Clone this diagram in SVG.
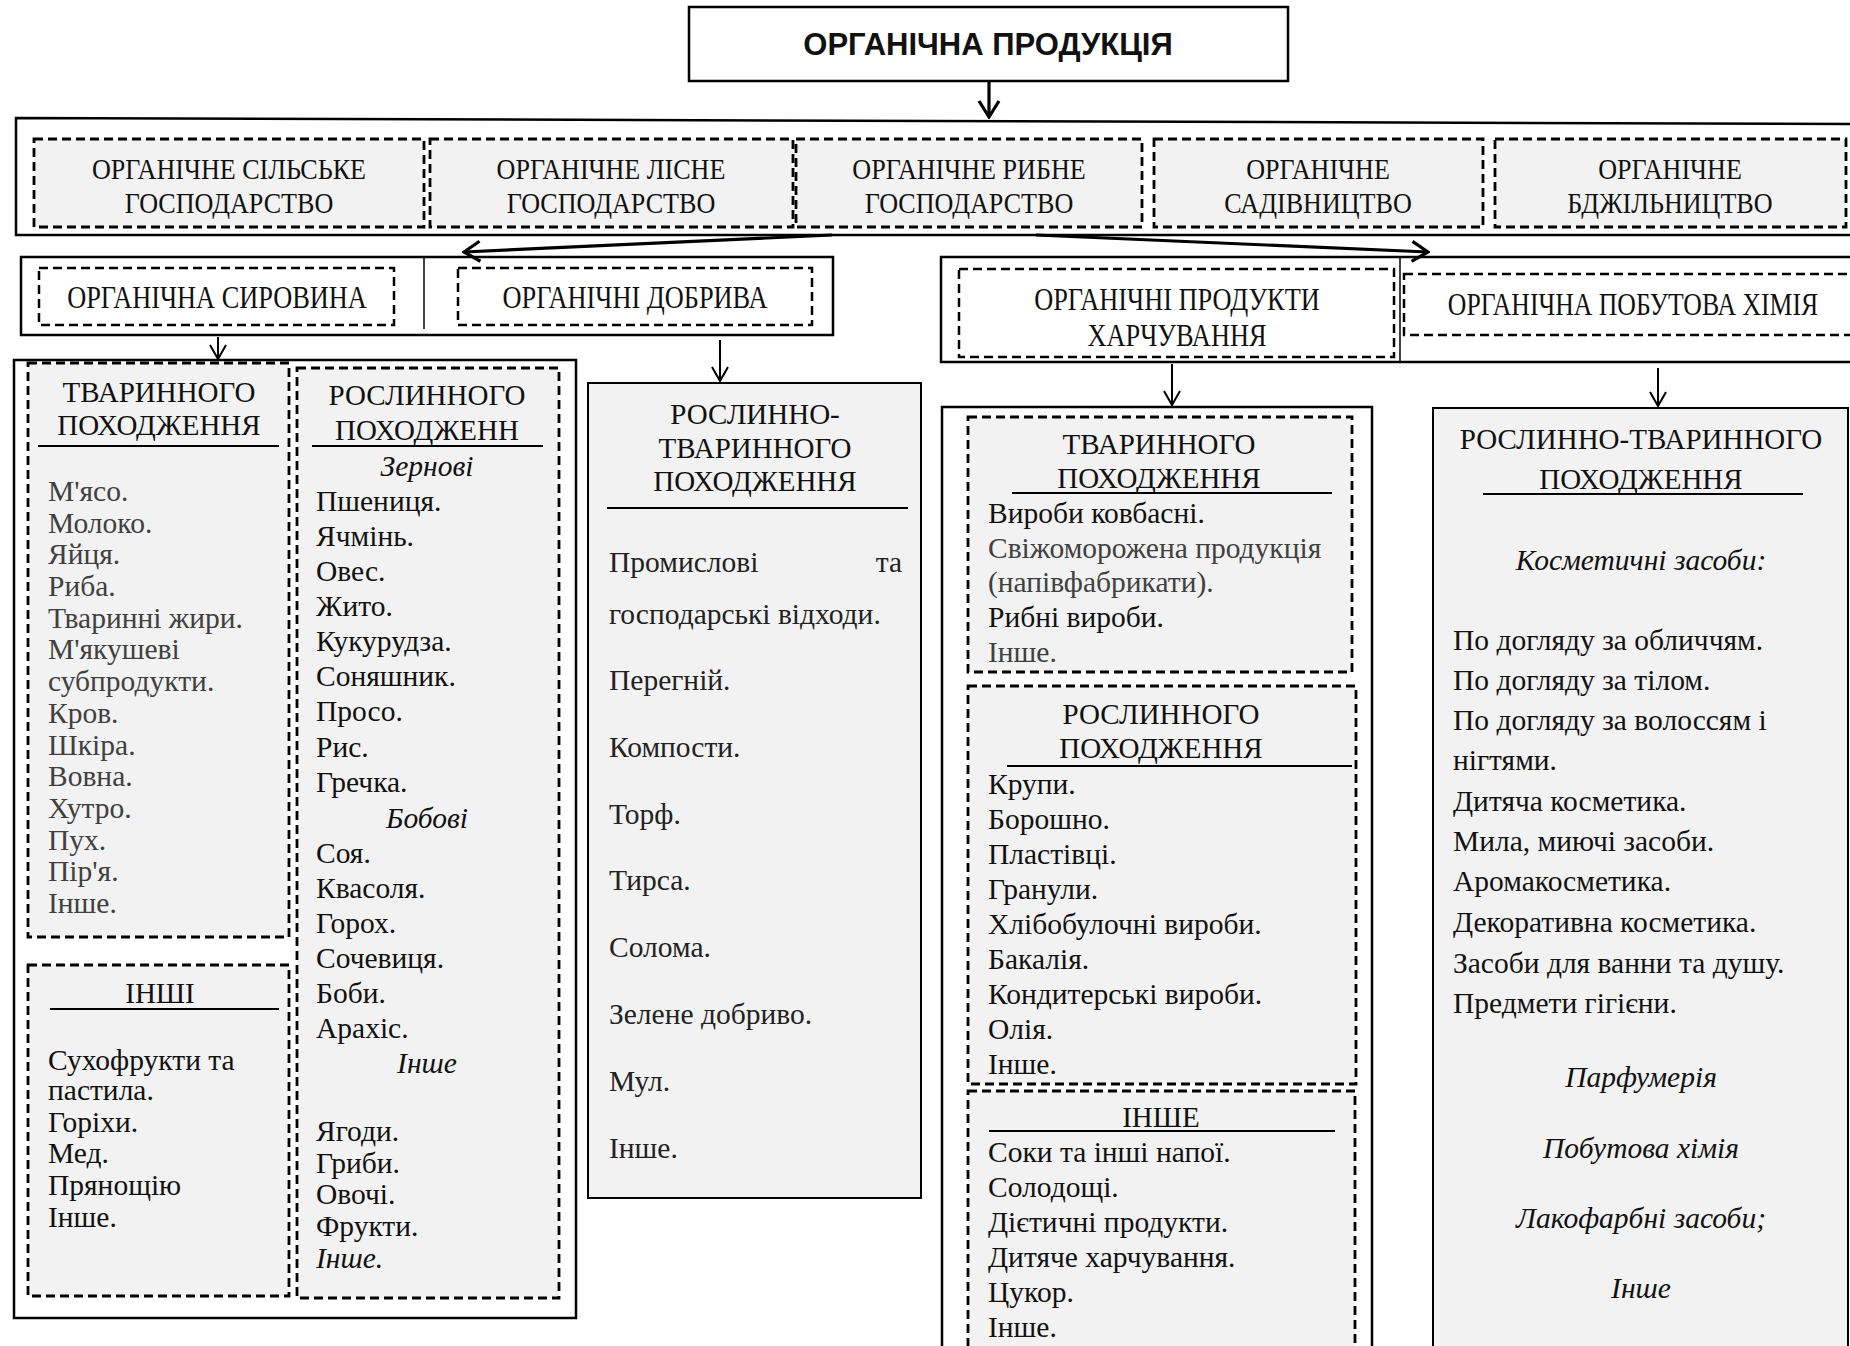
<svg xmlns="http://www.w3.org/2000/svg" width="1850" height="1346" viewBox="0 0 1850 1346">
<defs>
<style>
text{font-family:"Liberation Serif","Times New Roman",serif;fill:#111}
.title{font-family:"Liberation Sans",Arial,sans-serif;font-weight:bold;font-size:31px;text-anchor:middle}
.lab{font-size:30px;text-anchor:middle}
.lab2{font-size:31px;text-anchor:middle}
.h{font-size:29px;text-anchor:middle}
.t{font-size:29.5px}
.g{fill:#404040}
.d{fill:#222}
.i{font-style:italic;text-anchor:middle}
.it{font-style:italic}
.solid{fill:#fff;stroke:#000;stroke-width:2.5}
.panel{fill:#f2f2f2;stroke:#000;stroke-width:2}
.dash{fill:#f2f2f2;stroke:#000;stroke-width:2.8;stroke-dasharray:9 5}
.dashw{fill:#fff;stroke:#000;stroke-width:2.5;stroke-dasharray:9 5}
.ul{stroke:#000;stroke-width:2}
.conn{fill:none;stroke:#000}
</style>
<marker id="ahThick" viewBox="0 0 20 24" refX="18" refY="12" markerWidth="20" markerHeight="24" markerUnits="userSpaceOnUse" orient="auto">
<path d="M2,2 L18,12 L2,22" fill="none" stroke="#000" stroke-width="3.2"/>
</marker>
<marker id="ahThin" viewBox="0 0 16 18" refX="15" refY="9" markerWidth="16" markerHeight="18" markerUnits="userSpaceOnUse" orient="auto">
<path d="M1,1 L15,9 L1,17" fill="none" stroke="#000" stroke-width="2"/>
</marker>
</defs>
<rect width="1850" height="1346" fill="#fff"/>

<g id="title">
<rect x="689" y="7" width="599" height="74" class="solid"/>
<text class="title" x="988" y="55">ОРГАНІЧНА ПРОДУКЦІЯ</text>
</g>

<g id="band1">
<path d="M16,118 L1860,124 L1860,235 L16,235 Z" class="solid"/>
</g>
<g id="n-silske">
<rect x="34" y="139" width="390" height="88" class="dash"/>
<text class="lab" transform="translate(229,179) scale(0.87,1)">ОРГАНІЧНЕ СІЛЬСЬКЕ</text>
<text class="lab" transform="translate(229,213) scale(0.87,1)">ГОСПОДАРСТВО</text>
</g>
<g id="n-lisne">
<rect x="430" y="139" width="363" height="88" class="dash"/>
<text class="lab" transform="translate(611,179) scale(0.87,1)">ОРГАНІЧНЕ ЛІСНЕ</text>
<text class="lab" transform="translate(611,213) scale(0.87,1)">ГОСПОДАРСТВО</text>
</g>
<g id="n-rybne">
<rect x="796" y="139" width="346" height="88" class="dash"/>
<text class="lab" transform="translate(969,179) scale(0.87,1)">ОРГАНІЧНЕ РИБНЕ</text>
<text class="lab" transform="translate(969,213) scale(0.87,1)">ГОСПОДАРСТВО</text>
</g>
<g id="n-sadivn">
<rect x="1154" y="139" width="329" height="88" class="dash"/>
<text class="lab" transform="translate(1318,179) scale(0.87,1)">ОРГАНІЧНЕ</text>
<text class="lab" transform="translate(1318,213) scale(0.87,1)">САДІВНИЦТВО</text>
</g>
<g id="n-bdzhil">
<rect x="1495" y="139" width="351" height="88" class="dash"/>
<text class="lab" transform="translate(1670,179) scale(0.87,1)">ОРГАНІЧНЕ</text>
<text class="lab" transform="translate(1670,213) scale(0.87,1)">БДЖІЛЬНИЦТВО</text>
</g>

<g id="band2-left">
<rect x="21" y="257" width="812" height="78" class="solid"/>
<line x1="424" y1="257" x2="424" y2="329" stroke="#000" stroke-width="1.5"/>
</g>
<g id="n-syrovyna">
<rect x="39" y="268" width="355" height="57" class="dashw"/>
<text class="lab2" transform="translate(217,308) scale(0.85,1)">ОРГАНІЧНА СИРОВИНА</text>
</g>
<g id="n-dobryva">
<rect x="458" y="268" width="354" height="57" class="dashw"/>
<text class="lab2" transform="translate(635,308) scale(0.85,1)">ОРГАНІЧНІ ДОБРИВА</text>
</g>

<g id="band2-right">
<rect x="941" y="257" width="920" height="105" class="solid"/>
<line x1="1400" y1="257" x2="1400" y2="362" stroke="#000" stroke-width="1.5"/>
</g>
<g id="n-produkty">
<rect x="959" y="269" width="435" height="88" class="dashw"/>
<text class="lab2" transform="translate(1177,310) scale(0.85,1)">ОРГАНІЧНІ ПРОДУКТИ</text>
<text class="lab2" transform="translate(1177,346) scale(0.85,1)">ХАРЧУВАННЯ</text>
</g>
<g id="n-khimiya">
<rect x="1404" y="274" width="460" height="61" class="dashw"/>
<text class="lab2" transform="translate(1633,315) scale(0.83,1)">ОРГАНІЧНА ПОБУТОВА ХІМІЯ</text>
</g>

<g id="connectors">
<line x1="989" y1="81" x2="989" y2="117" class="conn" stroke-width="3.2" marker-end="url(#ahThick)"/>
<line x1="832" y1="235" x2="464" y2="252" class="conn" stroke-width="3.2" marker-end="url(#ahThick)"/>
<line x1="1036" y1="235" x2="1428" y2="252" class="conn" stroke-width="3.2" marker-end="url(#ahThick)"/>
<line x1="218" y1="337" x2="218" y2="359" class="conn" stroke-width="2" marker-end="url(#ahThin)"/>
<line x1="720" y1="340" x2="720" y2="381" class="conn" stroke-width="2" marker-end="url(#ahThin)"/>
<line x1="1172" y1="364" x2="1172" y2="405" class="conn" stroke-width="2" marker-end="url(#ahThin)"/>
<line x1="1658" y1="368" x2="1658" y2="406" class="conn" stroke-width="2" marker-end="url(#ahThin)"/>
</g>

<g id="syrovyna-container">
<rect x="14" y="360" width="562" height="958" class="solid" stroke-width="2"/>
</g>
<g id="n-tvarynne">
<rect x="28" y="363" width="261" height="574" class="dash"/>
<text class="h" x="159" y="402">ТВАРИННОГО</text>
<text class="h" x="159" y="435">ПОХОДЖЕННЯ</text>
<line x1="38" y1="446" x2="279" y2="446" class="ul"/>
<text class="t g" x="48" y="501">М'ясо.</text>
<text class="t g" x="48" y="533">Молоко.</text>
<text class="t g" x="48" y="564">Яйця.</text>
<text class="t g" x="48" y="596">Риба.</text>
<text class="t g" x="48" y="628">Тваринні жири.</text>
<text class="t g" x="48" y="659">М'якушеві</text>
<text class="t g" x="48" y="691">субпродукти.</text>
<text class="t g" x="48" y="723">Кров.</text>
<text class="t g" x="48" y="755">Шкіра.</text>
<text class="t g" x="48" y="786">Вовна.</text>
<text class="t g" x="48" y="818">Хутро.</text>
<text class="t g" x="48" y="850">Пух.</text>
<text class="t g" x="48" y="881">Пір'я.</text>
<text class="t g" x="48" y="913">Інше.</text>
</g>
<g id="n-roslynne">
<rect x="297" y="368" width="262" height="930" class="dash"/>
<text class="h" x="427" y="405">РОСЛИННОГО</text>
<text class="h" x="427" y="440">ПОХОДЖЕНН</text>
<line x1="312" y1="446" x2="543" y2="446" class="ul"/>
<text class="t i" x="427" y="476">Зернові</text>
<text class="t" x="316" y="511">Пшениця.</text>
<text class="t" x="316" y="546">Ячмінь.</text>
<text class="t" x="316" y="581">Овес.</text>
<text class="t" x="316" y="616">Жито.</text>
<text class="t" x="316" y="651">Кукурудза.</text>
<text class="t" x="316" y="686">Соняшник.</text>
<text class="t" x="316" y="721">Просо.</text>
<text class="t" x="316" y="757">Рис.</text>
<text class="t" x="316" y="792">Гречка.</text>
<text class="t i" x="427" y="828">Бобові</text>
<text class="t" x="316" y="863">Соя.</text>
<text class="t" x="316" y="898">Квасоля.</text>
<text class="t" x="316" y="933">Горох.</text>
<text class="t" x="316" y="968">Сочевиця.</text>
<text class="t" x="316" y="1003">Боби.</text>
<text class="t" x="316" y="1038">Арахіс.</text>
<text class="t i" x="427" y="1073">Інше</text>
<text class="t" x="316" y="1141">Ягоди.</text>
<text class="t" x="316" y="1173">Гриби.</text>
<text class="t" x="316" y="1204">Овочі.</text>
<text class="t" x="316" y="1236">Фрукти.</text>
<text class="t it" x="316" y="1268">Інше.</text>
</g>
<g id="n-inshi">
<rect x="28" y="965" width="261" height="331" class="dash"/>
<text class="h" x="160" y="1003">ІНШІ</text>
<line x1="50" y1="1009" x2="279" y2="1009" class="ul"/>
<text class="t" x="48" y="1070">Сухофрукти та</text>
<text class="t" x="48" y="1100">пастила.</text>
<text class="t" x="48" y="1132">Горіхи.</text>
<text class="t" x="48" y="1163">Мед.</text>
<text class="t" x="48" y="1195">Прянощію</text>
<text class="t" x="48" y="1227">Інше.</text>
</g>

<g id="n-dobryva-content">
<rect x="588" y="383" width="333" height="815" class="panel"/>
<text class="h" x="755" y="424">РОСЛИННО-</text>
<text class="h" x="755" y="458">ТВАРИННОГО</text>
<text class="h" x="755" y="491">ПОХОДЖЕННЯ</text>
<line x1="607" y1="508" x2="908" y2="508" class="ul"/>
<text class="t d" x="609" y="572">Промислові</text>
<text class="t d" x="902" y="572" text-anchor="end">та</text>
<text class="t d" x="609" y="624">господарські відходи.</text>
<text class="t d" x="609" y="690">Перегній.</text>
<text class="t d" x="609" y="757">Компости.</text>
<text class="t d" x="609" y="824">Торф.</text>
<text class="t d" x="609" y="890">Тирса.</text>
<text class="t d" x="609" y="957">Солома.</text>
<text class="t d" x="609" y="1024">Зелене добриво.</text>
<text class="t d" x="609" y="1091">Мул.</text>
<text class="t d" x="609" y="1158">Інше.</text>
</g>

<g id="food-container">
<rect x="942" y="407" width="430" height="960" class="solid" stroke-width="2"/>
</g>
<g id="n-food-tvarynne">
<rect x="968" y="417" width="384" height="255" class="dash"/>
<text class="h" x="1159" y="454">ТВАРИННОГО</text>
<text class="h" x="1159" y="488">ПОХОДЖЕННЯ</text>
<line x1="1012" y1="493" x2="1332" y2="493" class="ul"/>
<text class="t" x="988" y="523">Вироби ковбасні.</text>
<text class="t g" x="988" y="558">Свіжоморожена продукція</text>
<text class="t g" x="988" y="592">(напівфабрикати).</text>
<text class="t" x="988" y="627">Рибні вироби.</text>
<text class="t g" x="988" y="662">Інше.</text>
</g>
<g id="n-food-roslynne">
<rect x="968" y="686" width="388" height="398" class="dash"/>
<text class="h" x="1161" y="724">РОСЛИННОГО</text>
<text class="h" x="1161" y="758">ПОХОДЖЕННЯ</text>
<line x1="1007" y1="766" x2="1352" y2="766" class="ul"/>
<text class="t" x="988" y="794">Крупи.</text>
<text class="t" x="988" y="829">Борошно.</text>
<text class="t" x="988" y="864">Пластівці.</text>
<text class="t" x="988" y="899">Гранули.</text>
<text class="t" x="988" y="934">Хлібобулочні вироби.</text>
<text class="t" x="988" y="969">Бакалія.</text>
<text class="t" x="988" y="1004">Кондитерські вироби.</text>
<text class="t" x="988" y="1039">Олія.</text>
<text class="t" x="988" y="1074">Інше.</text>
</g>
<g id="n-food-inshe">
<rect x="968" y="1091" width="387" height="280" class="dash"/>
<text class="h" x="1161" y="1127">ІНШЕ</text>
<line x1="989" y1="1131" x2="1335" y2="1131" class="ul"/>
<text class="t" x="988" y="1162">Соки та інші напої.</text>
<text class="t" x="988" y="1197">Солодощі.</text>
<text class="t" x="988" y="1232">Дієтичні продукти.</text>
<text class="t" x="988" y="1267">Дитяче харчування.</text>
<text class="t" x="988" y="1302">Цукор.</text>
<text class="t" x="988" y="1337">Інше.</text>
</g>

<g id="n-khimiya-content">
<rect x="1433" y="408" width="415" height="960" class="panel"/>
<text class="h" x="1641" y="449">РОСЛИННО-ТВАРИННОГО</text>
<text class="h" x="1641" y="489">ПОХОДЖЕННЯ</text>
<line x1="1483" y1="494" x2="1803" y2="494" class="ul"/>
<text class="t i" x="1641" y="570">Косметичні засоби:</text>
<text class="t" x="1453" y="650">По догляду за обличчям.</text>
<text class="t" x="1453" y="690">По догляду за тілом.</text>
<text class="t" x="1453" y="730">По догляду за волоссям і</text>
<text class="t" x="1453" y="770">нігтями.</text>
<text class="t" x="1453" y="811">Дитяча косметика.</text>
<text class="t" x="1453" y="851">Мила, миючі засоби.</text>
<text class="t" x="1453" y="891">Аромакосметика.</text>
<text class="t" x="1453" y="932">Декоративна косметика.</text>
<text class="t" x="1453" y="973">Засоби для ванни та душу.</text>
<text class="t" x="1453" y="1013">Предмети гігієни.</text>
<text class="t i" x="1641" y="1087">Парфумерія</text>
<text class="t i" x="1641" y="1158">Побутова хімія</text>
<text class="t i" x="1641" y="1228">Лакофарбні засоби;</text>
<text class="t i" x="1641" y="1298">Інше</text>
</g>
</svg>
